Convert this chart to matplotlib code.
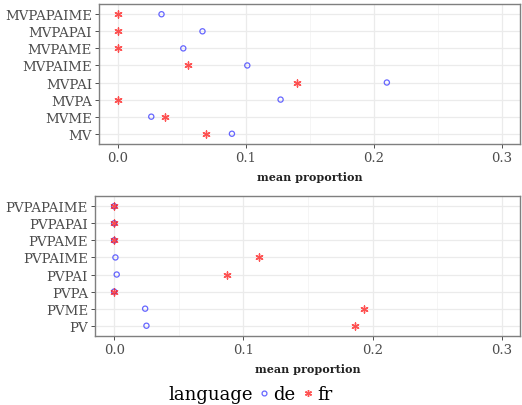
import matplotlib
matplotlib.use("Agg")
import matplotlib.pyplot as plt
from matplotlib.lines import Line2D
from matplotlib.offsetbox import HPacker

plt.rcParams['font.family'] = ['DejaVu Serif']

# top panel (MV)
mv_cats = ["MV", "MVME", "MVPA", "MVPAI", "MVPAIME", "MVPAME", "MVPAPAI", "MVPAPAIME"]
mv_de = [0.089, 0.026, 0.127, 0.210, 0.101, 0.051, 0.066, 0.034]
mv_fr = [0.069, 0.037, 0.000, 0.140, 0.055, 0.000, 0.000, 0.000]

# bottom panel (PV)
pv_cats = ["PV", "PVME", "PVPA", "PVPAI", "PVPAIME", "PVPAME", "PVPAPAI", "PVPAPAIME"]
pv_de = [0.025, 0.024, 0.000, 0.002, 0.001, 0.000, 0.000, 0.000]
pv_fr = [0.186, 0.193, 0.000, 0.087, 0.112, 0.000, 0.000, 0.000]

xticks = [0.0, 0.1, 0.2, 0.3]
blue = (0.2, 0.2, 1.0, 0.75)
red = (1.0, 0.1, 0.1, 0.75)

fig = plt.figure(figsize=(5.22, 4.06), dpi=100)
ax1 = fig.add_axes([0.1897, 0.6429, 0.8065, 0.3448])
ax2 = fig.add_axes([0.182, 0.170, 0.8142, 0.3448])


def panel(ax, cats, de, fr):
    y = range(len(cats))
    ax.scatter(de, y, marker="o", s=14, facecolors="none", edgecolors=[blue], linewidths=0.9, zorder=3)
    ax.scatter(fr, y, marker=(6, 2, 0), s=26, color=red, linewidths=1.0, zorder=3)
    ax.set_yticks(list(y))
    ax.set_yticklabels(cats, fontsize=9.6, color="#4d4d4d")
    ax.set_ylim(-0.6, len(cats) - 0.4)
    ax.set_xlim(-0.0148, 0.314)
    ax.set_xticks(xticks)
    ax.set_xticklabels([f"{t:.1f}" for t in xticks], fontsize=9.5, color="#4d4d4d")
    ax.set_xticks([0.05, 0.15, 0.25], minor=True)
    ax.grid(True, which="major", color="#ebebeb", linewidth=0.9)
    ax.grid(True, which="minor", axis="x", color="#f2f2f2", linewidth=0.5)
    ax.tick_params(which="minor", length=0)
    ax.tick_params(which="major", length=3, color="#333333", width=0.6, pad=2)
    ax.set_axisbelow(True)
    for s in ax.spines.values():
        s.set_color("#7f7f7f")
        s.set_linewidth(1.0)
    ax.set_xlabel("mean proportion", fontsize=8, fontweight="bold", color="#222222", labelpad=5)


panel(ax1, mv_cats, mv_de, mv_fr)
panel(ax2, pv_cats, pv_de, pv_fr)

handles = [
    Line2D([], [], linestyle="none", marker="o", markersize=3.5, markerfacecolor="none",
           markeredgecolor=blue, markeredgewidth=0.9, label="de"),
    Line2D([], [], linestyle="none", marker=(6, 2, 0), markersize=5, color=red,
           markeredgewidth=1.0, label="fr"),
]
leg = fig.legend(handles=handles, loc="lower center", bbox_to_anchor=(0.48, -0.035), ncol=2,
                 frameon=False, title="language", fontsize=13, title_fontsize=13,
                 handletextpad=0.05, columnspacing=0.25, handlelength=0.9)
# put title inline with the entries
leg._legend_box._children = [HPacker(children=[leg._legend_title_box, leg._legend_handle_box],
                                     pad=0, sep=2, align="center")]
leg._legend_box.set_figure(fig)

fig.savefig("out.png", dpi=100)
